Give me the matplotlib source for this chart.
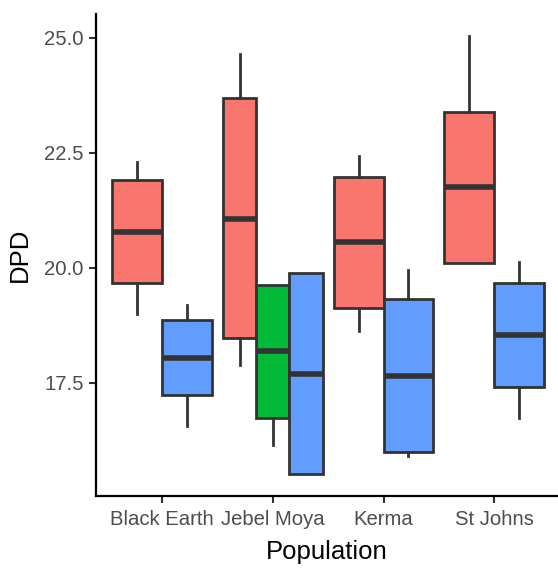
import matplotlib
matplotlib.use("Agg")
import matplotlib.pyplot as plt

plt.rcParams['font.family'] = ['Liberation Sans', 'DejaVu Sans']

populations = ['Black Earth', 'Jebel Moya', 'Kerma', 'St Johns']
red, green, blue = '#F8766D', '#00BA38', '#619CFF'

# one entry per box: (population index, colour, whislo, q1, med, q3, whishi)
box_pop = [0, 0, 1, 1, 1, 2, 2, 3, 3]
box_col = [red, blue, red, green, blue, red, blue, red, blue]
whislo = [18.99, 16.56, 17.88, 16.15, 15.51, 18.63, 15.91, 20.10, 16.74]
q1 = [19.66, 17.23, 18.47, 16.73, 15.51, 19.12, 15.99, 20.10, 17.41]
med = [20.78, 18.04, 21.06, 18.19, 17.69, 20.55, 17.65, 21.75, 18.54]
q3 = [21.91, 18.86, 23.68, 19.63, 19.89, 21.98, 19.32, 23.39, 19.67]
whishi = [22.29, 19.18, 24.65, 19.63, 19.89, 22.43, 19.95, 25.04, 20.13]

yticks = [17.5, 20.0, 22.5, 25.0]

fig = plt.figure(figsize=(5.58, 5.74), dpi=100)
ax = fig.add_axes([96 / 558, 77.7 / 574, 1 - 96 / 558, (496.3 - 13.8) / 574])

# dodge positions like ggplot (total width 0.9 per population)
positions, widths = [], []
for i, p in enumerate(box_pop):
    members = [j for j, q in enumerate(box_pop) if q == p]
    n = len(members)
    k = members.index(i)
    w = 0.9 / n
    positions.append(p + 1 - 0.45 + (k + 0.5) * w)
    widths.append(w)

stats = []
for i in range(len(box_pop)):
    stats.append(dict(whislo=whislo[i], q1=q1[i], med=med[i], q3=q3[i],
                      whishi=whishi[i], fliers=[]))

bp = ax.bxp(stats, positions=positions, widths=widths, patch_artist=True,
            showcaps=False, showfliers=False,
            boxprops=dict(edgecolor='#333333', linewidth=2),
            whiskerprops=dict(color='#333333', linewidth=2),
            medianprops=dict(color='#333333', linewidth=4, solid_capstyle='butt'))
for patch, c in zip(bp['boxes'], box_col):
    patch.set_facecolor(c)

ax.set_xlim(0.404, 4.575)
ax.set_ylim(15.03, 25.52)
ax.set_xticks([1, 2, 3, 4])
ax.set_xticklabels(populations)
ax.set_yticks(yticks)
ax.set_yticklabels(['%.1f' % v for v in yticks])

for s in ['top', 'right']:
    ax.spines[s].set_visible(False)
for s in ['left', 'bottom']:
    ax.spines[s].set_linewidth(1.6)
    ax.spines[s].set_color('black')

ax.tick_params(axis='both', length=5, width=1.5, color='#333333',
               labelsize=14.6, labelcolor='#4D4D4D')
ax.tick_params(axis='x', pad=5)
ax.tick_params(axis='y', pad=4)

ax.set_xlabel('Population', fontsize=18.5, color='black', labelpad=8)
ax.set_ylabel('DPD', fontsize=18.5, color='black', labelpad=9)

fig.savefig('out.png', dpi=100)
